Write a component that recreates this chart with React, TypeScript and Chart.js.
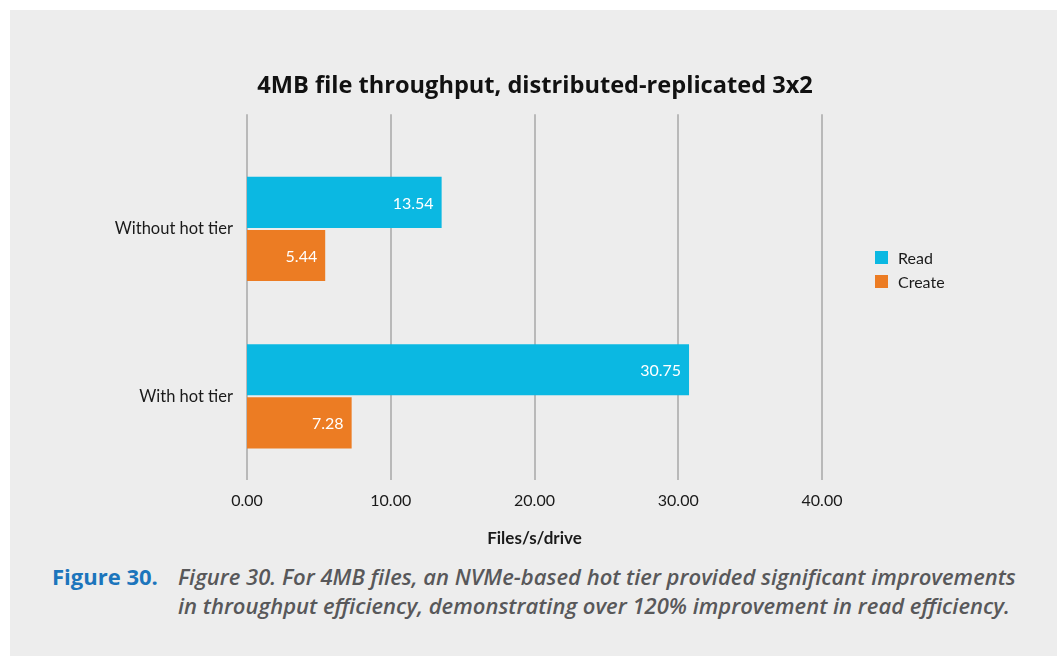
import React, { useEffect, useRef } from "react";
import { Chart, registerables } from "chart.js";

Chart.register(...registerables);

const chartTitle = "4MB file throughput, distributed-replicated 3x2";
const categories = ["Without hot tier", "With hot tier"];
const seriesNames = ["Read", "Create"];
const readValues = [13.54, 30.75];
const createValues = [5.44, 7.28];
const xTickValues = [0, 10, 20, 30, 40];
const xTickLabels = ["0.00", "10.00", "20.00", "30.00", "40.00"];
const xAxisTitle = "Files/s/drive";
const seriesColors = ["#0bb8e2", "#ec7c23"];
const captionLabel = "Figure 30.";
const captionLines = [
  "Figure 30. For 4MB files, an NVMe-based hot tier provided significant improvements",
  "in throughput efficiency, demonstrating over 120% improvement in read efficiency.",
];

const FONT = "Lato, 'Open Sans', sans-serif";
const TITLE_FONT = "'Open Sans', Lato, sans-serif";

const gridPlugin = {
  id: "extendedGrid",
  beforeDatasetsDraw(chart: any) {
    const { ctx, chartArea, scales } = chart;
    const x = scales.x;
    ctx.save();
    ctx.strokeStyle = "#b9b9b9";
    ctx.lineWidth = 2;
    x.ticks.forEach((t: any) => {
      const px = Math.round(x.getPixelForValue(t.value));
      ctx.beginPath();
      ctx.moveTo(px, chartArea.top - 31);
      ctx.lineTo(px, chartArea.bottom);
      ctx.stroke();
    });
    ctx.restore();
  },
};

const valueLabelPlugin = {
  id: "valueLabels",
  afterDatasetsDraw(chart: any) {
    const { ctx } = chart;
    ctx.save();
    ctx.fillStyle = "#ffffff";
    ctx.font = `16px ${FONT}`;
    ctx.textAlign = "right";
    ctx.textBaseline = "middle";
    chart.data.datasets.forEach((ds: any, i: number) => {
      const meta = chart.getDatasetMeta(i);
      meta.data.forEach((bar: any, j: number) => {
        const v = ds.data[j] as number;
        ctx.fillText(v.toFixed(2), bar.x - 8, bar.y + 1);
      });
    });
    ctx.restore();
  },
};

export default function App() {
  const canvasRef = useRef<HTMLCanvasElement | null>(null);

  useEffect(() => {
    if (!canvasRef.current) return;
    const chart = new Chart(canvasRef.current, {
      type: "bar",
      data: {
        labels: categories,
        datasets: [
          {
            label: seriesNames[0],
            data: readValues,
            backgroundColor: seriesColors[0],
            categoryPercentage: 0.635,
            barPercentage: 0.962,
          },
          {
            label: seriesNames[1],
            data: createValues,
            backgroundColor: seriesColors[1],
            categoryPercentage: 0.635,
            barPercentage: 0.962,
          },
        ],
      },
      options: {
        indexAxis: "y",
        responsive: true,
        maintainAspectRatio: false,
        animation: false,
        layout: { padding: { left: 3, right: 0, top: 0, bottom: 0 } },
        plugins: {
          legend: { display: false },
          tooltip: { enabled: false },
          title: {
            display: true,
            text: chartTitle,
            color: "#111111",
            font: { family: TITLE_FONT, size: 23.6, weight: "bold", lineHeight: 1.2 },
            padding: { top: 62, bottom: 45 },
          },
        },
        scales: {
          x: {
            type: "linear",
            min: xTickValues[0],
            max: xTickValues[xTickValues.length - 1],
            grid: { display: false },
            border: { display: false },
            afterBuildTicks: (scale: any) => {
              scale.ticks = xTickValues.map((v) => ({ value: v }));
            },
            ticks: {
              padding: 3,
              color: "#1a1a1a",
              font: { family: FONT, size: 16 },
              callback: (v: any) => {
                const idx = xTickValues.indexOf(Number(v));
                return idx >= 0 ? xTickLabels[idx] : "";
              },
            },
            title: {
              display: true,
              text: xAxisTitle,
              color: "#1a1a1a",
              font: { family: FONT, size: 17, weight: "bold" },
              padding: { top: 0, bottom: 6 },
            },
            afterFit: (scale: any) => {
              scale.height = 75;
            },
          },
          y: {
            type: "category",
            offset: true,
            grid: { display: false },
            border: { display: false },
            ticks: {
              padding: 6,
              color: "#1a1a1a",
              font: { family: FONT, size: 16.5 },
            },
            afterFit: (scale: any) => {
              scale.width = 234;
            },
          },
          yRightSpace: {
            type: "category",
            position: "right",
            display: true,
            grid: { display: false },
            border: { display: false },
            ticks: { display: false },
            afterFit: (scale: any) => {
              scale.width = 235;
            },
          },
        },
      } as any,
      plugins: [gridPlugin, valueLabelPlugin],
    });
    return () => chart.destroy();
  }, []);

  return (
    <div
      style={{
        position: "absolute",
        left: 0,
        top: 0,
        width: 1057,
        height: 656,
        background: "#ffffff",
        overflow: "hidden",
      }}
    >
      <div
        style={{
          position: "absolute",
          left: 10,
          top: 10,
          width: 1047,
          height: 646,
          background: "#ededed",
        }}
      >
        <div style={{ position: "absolute", left: 0, top: 0, width: 1047, height: 545 }}>
          <canvas ref={canvasRef} />
        </div>
        <div
          style={{
            position: "absolute",
            left: 865,
            top: 235,
            fontFamily: FONT,
            fontSize: 16,
            color: "#1a1a1a",
          }}
        >
          {seriesNames.map((name, i) => (
            <div key={name} style={{ display: "flex", alignItems: "center", height: 24 }}>
              <span
                style={{
                  display: "inline-block",
                  width: 13,
                  height: 13,
                  background: seriesColors[i],
                  marginRight: 10,
                }}
              />
              <span>{name}</span>
            </div>
          ))}
        </div>
        <div
          style={{
            position: "absolute",
            left: 42,
            top: 552,
            display: "flex",
            alignItems: "flex-start",
            whiteSpace: "nowrap",
          }}
        >
          <div
            style={{
              width: 126,
              fontFamily: "'Open Sans', sans-serif",
              fontWeight: 700,
              fontSize: 22,
              lineHeight: "29px",
              color: "#1c75bc",
            }}
          >
            {captionLabel}
          </div>
          <div
            style={{
              fontFamily: "'Open Sans', sans-serif",
              fontStyle: "italic",
              fontWeight: 600,
              fontSize: 22,
              lineHeight: "29px",
              color: "#58585a",
            }}
          >
            {captionLines.map((l) => (
              <div key={l}>{l}</div>
            ))}
          </div>
        </div>
      </div>
    </div>
  );
}
